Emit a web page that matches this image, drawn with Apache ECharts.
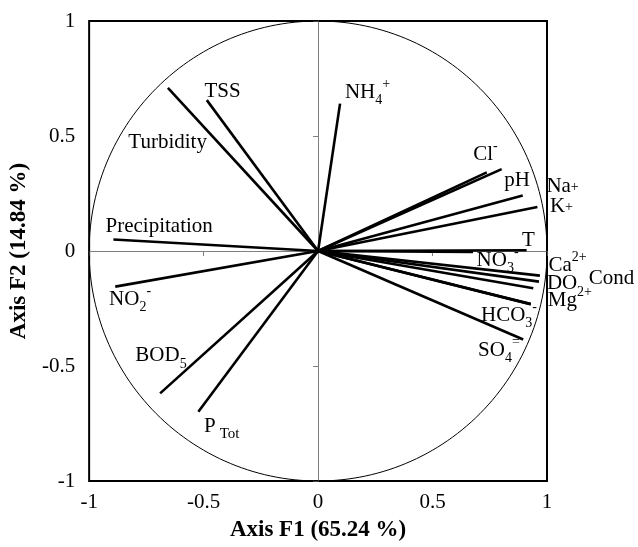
<!DOCTYPE html>
<html><head><meta charset="utf-8">
<script src="https://cdn.jsdelivr.net/npm/echarts@6/dist/echarts.min.js"></script>
<style>html,body{margin:0;padding:0;background:#fff}#c{width:638px;height:547px}</style>
</head><body><div id="c"></div>
<script>
const variables = ['TSS','Turbidity','Precipitation','NO2-','BOD5','PTot','NH4+','Cl-','Na+','pH','K+','T','NO3-','Ca2+','DO','Cond','Mg2+','HCO3-','SO4='];
const f1 = [-0.486,-0.656,-0.894,-0.886,-0.690,-0.523,0.096,0.802,0.737,0.894,0.958,0.911,0.677,0.969,0.965,0.940,0.929,0.929,0.896];
const f2 = [0.656,0.709,0.050,-0.155,-0.619,-0.699,0.641,0.356,0.342,0.241,0.191,0.003,-0.004,-0.107,-0.133,-0.162,-0.231,-0.231,-0.385];
const labelText = ['{b|TSS}','{b|Turbidity}','{b|Precipitation}','{b|NO}{sub|2}{sup|-}','{b|BOD}{sub|5}','{b|P}{subT|Tot}','{b|NH}{sub|4}{sup|+}','{b|Cl}{sup|-}','{b|Na}{supm|+}','{b|pH}','{b|K}{supm|+}','{b|T}','{b|NO}{sub|3}{sup|-}','{b|Ca}{sup|2+}','{b|DO}','{b|Cond}','{b|Mg}{sup|2+}','{b|HCO}{sub|3}{sup|-}','{b|SO}{sub|4}{sup|=}'];
const labelX = [-0.417,-0.657,-0.694,-0.821,-0.686,-0.421,0.216,0.731,1.068,0.869,1.063,0.919,0.784,1.09,1.066,1.282,1.10,0.834,0.79];
const labelY = [0.693,0.473,0.106,-0.21,-0.456,-0.762,0.689,0.421,0.279,0.305,0.192,0.046,-0.041,-0.063,-0.14,-0.119,-0.214,-0.279,-0.434];
const axisMin = -1, axisMax = 1, axisStep = 0.5;
const xTitle = 'Axis F1 (65.24 %)';
const yTitle = 'Axis F2 (14.84 %)';

const FONT = 'Liberation Serif';
const chart = echarts.init(document.getElementById('c'), null, {renderer:'canvas'});
const baseAxis = {type:'value', min:axisMin, max:axisMax, interval:axisStep, splitLine:{show:false}};
chart.setOption({
  animation:false,
  backgroundColor:'#fff',
  grid:{left:89, right:91, top:21, bottom:63, show:true, borderColor:'#000', borderWidth:2, backgroundColor:'transparent'},
  xAxis:[
    Object.assign({}, baseAxis, {position:'bottom', axisLine:{show:false}, axisTick:{show:false},
      axisLabel:{fontFamily:FONT, fontSize:21, color:'#000', margin:11},
      name:xTitle, nameLocation:'middle', nameGap:38,
      nameTextStyle:{fontFamily:FONT, fontSize:23, fontWeight:'bold', color:'#000'}}),
    Object.assign({}, baseAxis, {position:'bottom', axisLine:{show:true, onZero:true, onZeroAxisIndex:0, lineStyle:{color:'#808080', width:1}},
      axisTick:{show:true, length:5, lineStyle:{color:'#808080', width:1}}, axisLabel:{show:false}})
  ],
  yAxis:[
    Object.assign({}, baseAxis, {position:'left', axisLine:{show:false}, axisTick:{show:false},
      axisLabel:{fontFamily:FONT, fontSize:21, color:'#000', margin:14},
      name:yTitle, nameLocation:'middle', nameGap:47,
      nameTextStyle:{fontFamily:FONT, fontSize:23, fontWeight:'bold', color:'#000'}}),
    Object.assign({}, baseAxis, {position:'left', axisLine:{show:true, onZero:true, onZeroAxisIndex:0, lineStyle:{color:'#808080', width:1}},
      axisTick:{show:true, length:5, lineStyle:{color:'#808080', width:1}}, axisLabel:{show:false}})
  ],
  series:[
    {
      type:'custom', xAxisIndex:0, yAxisIndex:0, silent:true, data:[[0,0]],
      renderItem:function(params, api){
        const pts=[];
        for(let i=0;i<=240;i++){const a=i/240*2*Math.PI; pts.push(api.coord([Math.cos(a), Math.sin(a)]));}
        return {type:'polyline', shape:{points:pts}, style:{stroke:'#000', lineWidth:1, fill:null}};
      }
    },
    {
      type:'custom', xAxisIndex:0, yAxisIndex:0, silent:true,
      data:f1.map((x,i)=>[x,f2[i]]),
      renderItem:function(params, api){
        const o=api.coord([0,0]);
        const e=api.coord([api.value(0), api.value(1)]);
        return {type:'line', shape:{x1:o[0],y1:o[1],x2:e[0],y2:e[1]}, style:{stroke:'#000', lineWidth:2.6}};
      }
    },
    {
      type:'scatter', xAxisIndex:0, yAxisIndex:0, silent:true, clip:false, symbolSize:0,
      itemStyle:{opacity:1},
      data:labelX.map((x,i)=>({name:variables[i], value:[x,labelY[i]]})),
      label:{show:true, position:'inside', formatter:p=>labelText[p.dataIndex],
        fontFamily:FONT, fontSize:21, color:'#000', lineHeight:30,
        rich:{
          b:{fontFamily:FONT, fontSize:21, color:'#000', lineHeight:30, verticalAlign:'middle'},
          sub:{fontFamily:FONT, fontSize:14, color:'#000', lineHeight:14, verticalAlign:'bottom'},
          subT:{fontFamily:FONT, fontSize:15, color:'#000', lineHeight:15, verticalAlign:'bottom', padding:[0,0,0,4]},
          sup:{fontFamily:FONT, fontSize:14, color:'#000', lineHeight:14, verticalAlign:'top'},
          supm:{fontFamily:FONT, fontSize:14, color:'#000', lineHeight:14, verticalAlign:'middle'}
        }},
      emphasis:{disabled:true}
    }
  ]
});
</script></body></html>
